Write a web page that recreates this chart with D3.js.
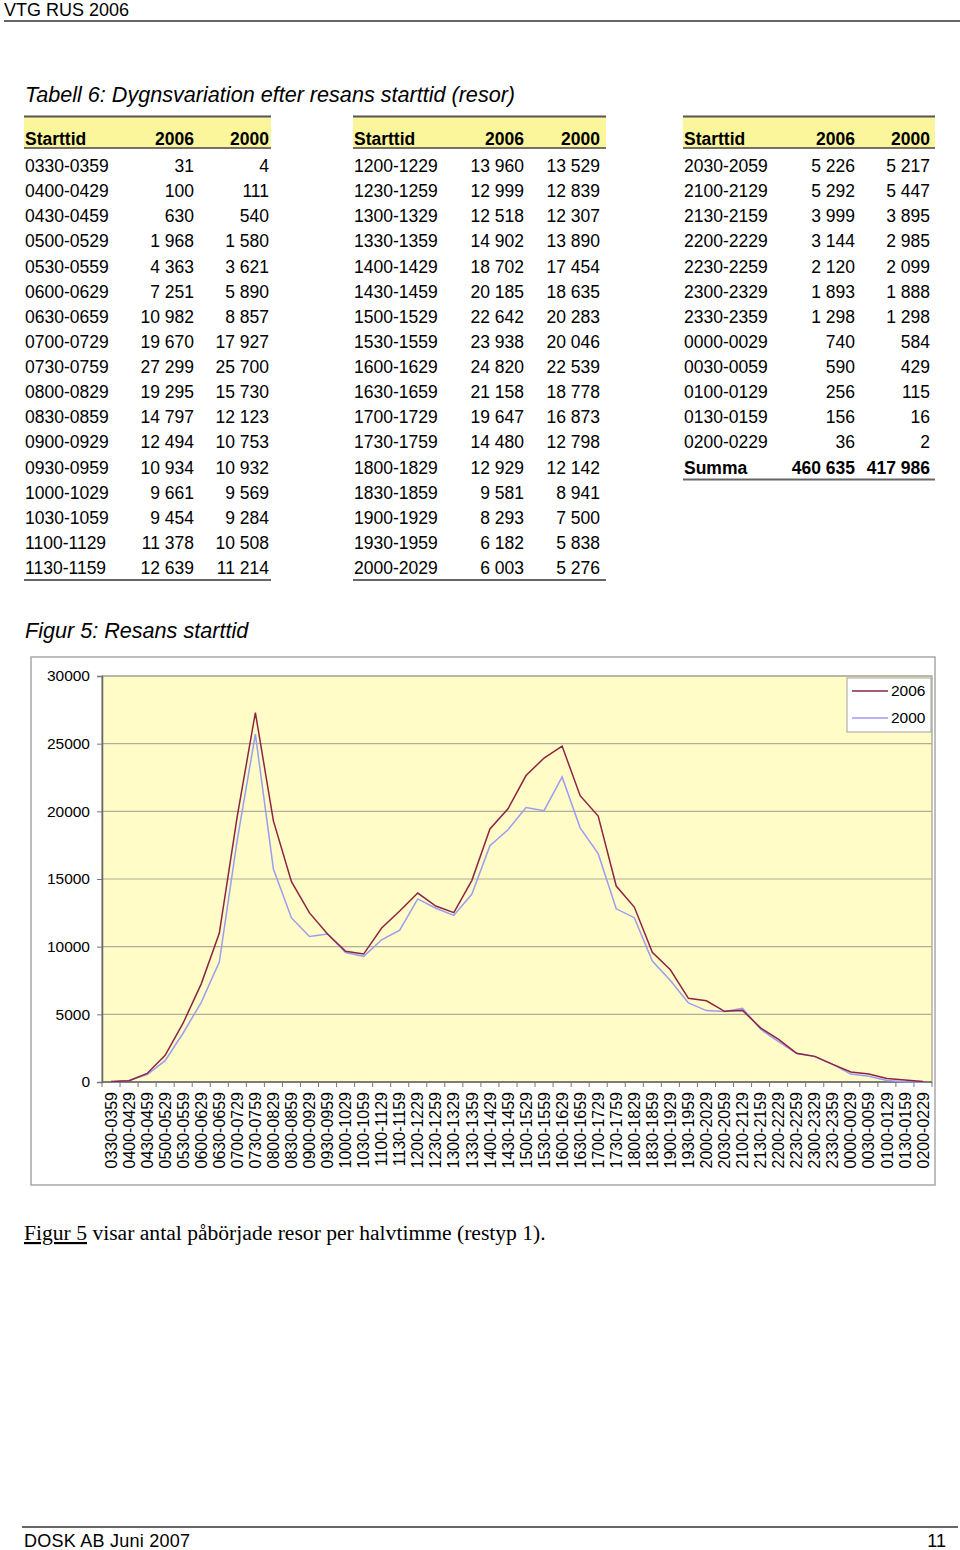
<!DOCTYPE html>
<html>
<head>
<meta charset="utf-8">
<script src="https://cdn.jsdelivr.net/npm/d3@7"></script>
<style>
  body { margin: 0; background: #fff; }
  svg { display: block; font-family: "Liberation Sans", Arial, sans-serif; }
</style>
</head>
<body>
<svg id="page"></svg>
<script>
var starttid = ["0330-0359","0400-0429","0430-0459","0500-0529","0530-0559","0600-0629","0630-0659","0700-0729","0730-0759","0800-0829","0830-0859","0900-0929","0930-0959","1000-1029","1030-1059","1100-1129","1130-1159",
  "1200-1229","1230-1259","1300-1329","1330-1359","1400-1429","1430-1459","1500-1529","1530-1559","1600-1629","1630-1659","1700-1729","1730-1759","1800-1829","1830-1859","1900-1929","1930-1959","2000-2029",
  "2030-2059","2100-2129","2130-2159","2200-2229","2230-2259","2300-2329","2330-2359","0000-0029","0030-0059","0100-0129","0130-0159","0200-0229"];
var resor2006 = [31,100,630,1968,4363,7251,10982,19670,27299,19295,14797,12494,10934,9661,9454,11378,12639,
  13960,12999,12518,14902,18702,20185,22642,23938,24820,21158,19647,14480,12929,9581,8293,6182,6003,
  5226,5292,3999,3144,2120,1893,1298,740,590,256,156,36];
var resor2000 = [4,111,540,1580,3621,5890,8857,17927,25700,15730,12123,10753,10932,9569,9284,10508,11214,
  13529,12839,12307,13890,17454,18635,20283,20046,22539,18778,16873,12798,12142,8941,7500,5838,5276,
  5217,5447,3895,2985,2099,1888,1298,584,429,115,16,2];
var summa = ["Summa", 460635, 417986];
var yTicks = [0, 5000, 10000, 15000, 20000, 25000, 30000];
var seriesNames = ["2006", "2000"];

var W = 960, H = 1550;
var svg = d3.select("#page").attr("width", W).attr("height", H);

var fmt = d3.formatLocale({decimal: ",", thousands: " ", grouping: [3], currency: ["", ""]}).format(",d");

// page header
svg.append("text").attr("x", 4).attr("y", 16).style("font-size", "18px").text("VTG RUS 2006");
svg.append("line").attr("x1", 4).attr("x2", 960).attr("y1", 21).attr("y2", 21)
    .style("stroke", "#333").style("stroke-width", 1.5);

svg.append("text").attr("x", 25).attr("y", 102)
    .style("font-size", "21.6px").style("font-style", "italic")
    .text("Tabell 6: Dygnsvariation efter resans starttid (resor)");

// tables
var tables = [
  {x0: 24, x1: 271, c1: 194, c2: 269, from: 0, to: 17, sum: false},
  {x0: 353, x1: 606, c1: 524, c2: 600, from: 17, to: 34, sum: false},
  {x0: 683, x1: 935, c1: 855, c2: 930, from: 34, to: 46, sum: true}
];
var rowStep = 25.125;

tables.forEach(function(t) {
  var g = svg.append("g");
  g.append("rect").attr("x", t.x0).attr("y", 116).attr("width", t.x1 - t.x0).attr("height", 32)
      .style("fill", "#fbf59c");
  g.append("line").attr("x1", t.x0).attr("x2", t.x1).attr("y1", 116.5).attr("y2", 116.5)
      .style("stroke", "#555").style("stroke-width", 2);
  g.append("line").attr("x1", t.x0).attr("x2", t.x1).attr("y1", 148).attr("y2", 148)
      .style("stroke", "#444").style("stroke-width", 1.5);

  var head = ["Starttid"].concat(seriesNames);
  g.append("text").attr("x", t.x0 + 1).attr("y", 145).style("font-size", "17.5px").style("font-weight", "bold").text(head[0]);
  g.append("text").attr("x", t.c1).attr("y", 145).attr("text-anchor", "end").style("font-size", "17.5px").style("font-weight", "bold").text(head[1]);
  g.append("text").attr("x", t.c2).attr("y", 145).attr("text-anchor", "end").style("font-size", "17.5px").style("font-weight", "bold").text(head[2]);

  var rows = d3.range(t.from, t.to).map(function(i) { return [starttid[i], resor2006[i], resor2000[i]]; });
  var r = g.selectAll(".row").data(rows).enter().append("g")
      .attr("class", "row")
      .attr("transform", function(d, i) { return "translate(0," + (172 + i * rowStep) + ")"; });
  r.append("text").attr("x", t.x0 + 1).style("font-size", "17.5px").text(function(d) { return d[0]; });
  r.append("text").attr("x", t.c1).attr("text-anchor", "end").style("font-size", "17.5px").text(function(d) { return fmt(d[1]); });
  r.append("text").attr("x", t.c2).attr("text-anchor", "end").style("font-size", "17.5px").text(function(d) { return fmt(d[2]); });

  var n = rows.length;
  if (t.sum) {
    var sy = 172 + n * rowStep;
    g.append("text").attr("x", t.x0 + 1).attr("y", sy).style("font-size", "17.5px").style("font-weight", "bold").text(summa[0]);
    g.append("text").attr("x", t.c1).attr("y", sy).attr("text-anchor", "end").style("font-size", "17.5px").style("font-weight", "bold").text(fmt(summa[1]));
    g.append("text").attr("x", t.c2).attr("y", sy).attr("text-anchor", "end").style("font-size", "17.5px").style("font-weight", "bold").text(fmt(summa[2]));
    n = n + 1;
  }
  var by = 172 + (n - 1) * rowStep + 6;
  g.append("line").attr("x1", t.x0).attr("x2", t.x1).attr("y1", by).attr("y2", by)
      .style("stroke", "#666").style("stroke-width", 2);
});

// figure
svg.append("text").attr("x", 25).attr("y", 638)
    .style("font-size", "21.6px").style("font-style", "italic")
    .text("Figur 5: Resans starttid");

svg.append("rect").attr("x", 31).attr("y", 657).attr("width", 904).attr("height", 528)
    .style("fill", "#fff").style("stroke", "#a8a8a8").style("stroke-width", 1.5);

var plot = {left: 102, right: 932, top: 676, bottom: 1082};

var x = d3.scaleBand().domain(starttid).range([plot.left, plot.right]);
var y = d3.scaleLinear().domain([0, 30000]).range([plot.bottom, plot.top]);

var chart = svg.append("g");

chart.append("rect").attr("x", plot.left).attr("y", plot.top)
    .attr("width", plot.right - plot.left).attr("height", plot.bottom - plot.top)
    .style("fill", "#fffcc8").style("stroke", "#8a8a80").style("stroke-width", 1);

chart.selectAll(".grid").data(yTicks.slice(1)).enter().append("line")
    .attr("class", "grid")
    .attr("x1", plot.left).attr("x2", plot.right)
    .attr("y1", function(d) { return y(d); }).attr("y2", function(d) { return y(d); })
    .style("stroke", "#b0ae98").style("stroke-width", 1.2);

var yAxis = chart.append("g")
    .attr("transform", "translate(" + plot.left + ",0)")
    .call(d3.axisLeft(y).tickValues(yTicks).tickSize(5).tickPadding(7).tickFormat(d3.format("d")));
yAxis.select(".domain").style("stroke", "#666").style("stroke-width", 1.5);
yAxis.selectAll(".tick line").style("stroke", "#777");
yAxis.selectAll("text").style("font-size", "15.5px").style("font-family", "Liberation Sans, Arial, sans-serif").style("fill", "#000");

var xAxis = chart.append("g")
    .attr("transform", "translate(0," + plot.bottom + ")");
xAxis.append("line").attr("x1", plot.left).attr("x2", plot.right).attr("y1", 0).attr("y2", 0)
    .style("stroke", "#666").style("stroke-width", 1.5);
xAxis.selectAll(".xt").data(starttid.concat(["end"])).enter().append("line")
    .attr("class", "xt")
    .attr("x1", function(d, i) { return plot.left + i * x.step(); })
    .attr("x2", function(d, i) { return plot.left + i * x.step(); })
    .attr("y1", 0).attr("y2", 5)
    .style("stroke", "#777");
xAxis.selectAll(".xl").data(starttid).enter().append("text")
    .attr("class", "xl")
    .attr("transform", function(d) { return "translate(" + (x(d) + x.bandwidth() / 2) + ",10) rotate(-90)"; })
    .attr("dy", "0.35em")
    .attr("text-anchor", "end")
    .style("font-size", "16px")
    .text(function(d) { return d; });

var line2006 = d3.line()
    .x(function(d, i) { return x(starttid[i]) + x.bandwidth() / 2; })
    .y(function(d) { return y(d); });

chart.append("path").datum(resor2000).attr("d", line2006)
    .style("fill", "none").style("stroke", "#9c9cf2").style("stroke-width", 1.5);
chart.append("path").datum(resor2006).attr("d", line2006)
    .style("fill", "none").style("stroke", "#8c2444").style("stroke-width", 1.5);

// legend
var legend = chart.append("g").attr("transform", "translate(847,678)");
legend.append("rect").attr("width", 84).attr("height", 54)
    .style("fill", "#fff").style("stroke", "#a0a0a0").style("stroke-width", 1);
var legColors = ["#8c2444", "#9c9cf2"];
seriesNames.forEach(function(s, i) {
  legend.append("line").attr("x1", 5).attr("x2", 41).attr("y1", 13 + i * 27).attr("y2", 13 + i * 27)
      .style("stroke", legColors[i]).style("stroke-width", 1.5);
  legend.append("text").attr("x", 44).attr("y", 13 + i * 27).attr("dy", "0.35em")
      .style("font-size", "15.5px").text(s);
});

// caption
var cap = svg.append("text").attr("x", 24).attr("y", 1240)
    .style("font-family", "Liberation Serif, Times New Roman, serif").style("font-size", "21.6px");
cap.append("tspan").style("text-decoration", "underline").text("Figur 5");
cap.append("tspan").text(" visar antal påbörjade resor per halvtimme (restyp 1).");

// footer
svg.append("line").attr("x1", 22).attr("x2", 958).attr("y1", 1527).attr("y2", 1527)
    .style("stroke", "#333").style("stroke-width", 1.5);
svg.append("text").attr("x", 24).attr("y", 1547).style("font-size", "18px")
    .style("font-family", "Liberation Sans Narrow, Arial Narrow, Liberation Sans, sans-serif")
    .attr("textLength", 166).text("DOSK AB  Juni 2007");
svg.append("text").attr("x", 946).attr("y", 1547).attr("text-anchor", "end").style("font-size", "18px")
    .style("font-family", "Liberation Sans Narrow, Arial Narrow, Liberation Sans, sans-serif")
    .text("11");
</script>
</body>
</html>
